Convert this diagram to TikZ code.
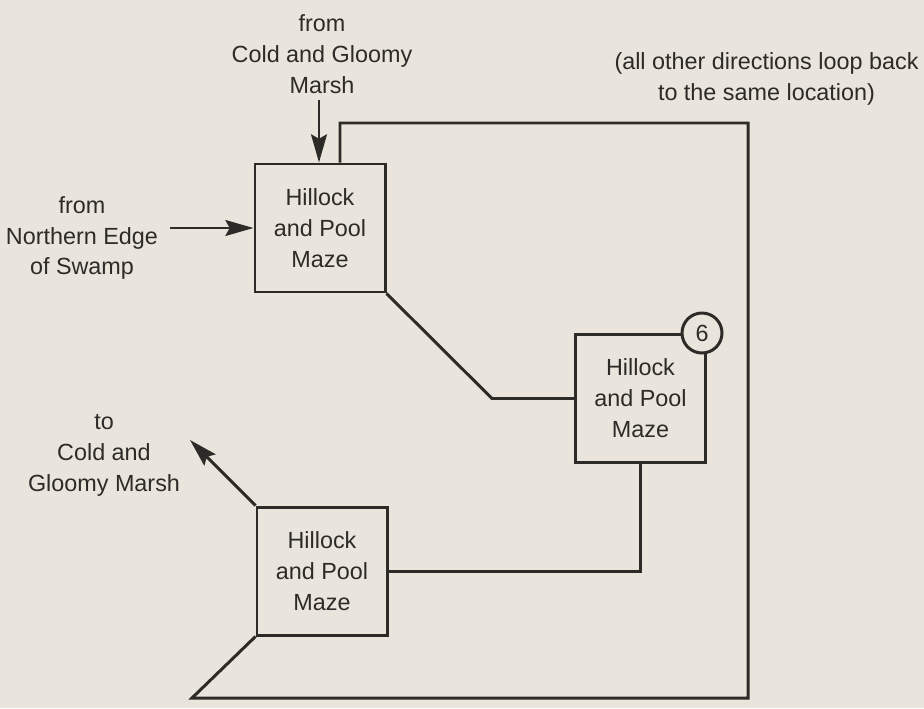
\documentclass[tikz,border=0pt]{standalone}
\usepackage{fontspec}
\setmainfont{Liberation Sans}
\usetikzlibrary{arrows.meta}
\definecolor{paper}{RGB}{233,229,220}
\definecolor{ink}{RGB}{45,43,40}
\newcommand{\mazefont}{\fontsize{13.3}{17.6}\selectfont}
\begin{document}
\begin{tikzpicture}[
            mbox/.style={draw=ink, line width=1.7pt, minimum width=2.6cm, minimum height=2.56cm, inner sep=0pt, align=center, font=\mazefont, text=ink},
            wire/.style={draw=ink, line width=1.7pt},
            arrow/.style={wire, -{Stealth[length=16pt, width=9pt, inset=2.5pt]}},
            lbl/.style={align=center, font=\mazefont, text=ink}
        ]
        \fill[paper] (0,0) rectangle (18.48,14.16);
        \useasboundingbox (0,0) rectangle (18.48,14.16);

        % --- maze rooms ---
        \node[mbox] (mz1) at (6.40, 9.60) {Hillock\\and Pool\\Maze};
        \node[mbox] (mz2) at (12.81, 6.19) {Hillock\\and Pool\\Maze};
        \node[mbox] (mz3) at (6.44, 2.74) {Hillock\\and Pool\\Maze};
        \node[circle, draw=ink, fill=paper, line width=1.7pt, minimum size=0.8cm, inner sep=0pt, font=\mazefont, text=ink] (six) at (14.04, 7.50) {6};

        % --- labels ---
        \node[lbl] (fromCG) at (6.44, 13.08) {from\\Cold and Gloomy\\Marsh};
        \node[lbl] (fromNE) at (1.64, 9.40) {from\\Northern Edge\\of Swamp};
        \node[lbl] (toCGl) at (2.08, 5.06) {to\\Cold and\\Gloomy Marsh};
        \node[lbl] (note) at (15.33, 12.58) {(all other directions loop back\\to the same location)};

        % --- connector ends ---
        \coordinate (fromN) at (6.38, 12.16);
        \coordinate (fromW) at (3.40, 9.60);
        \coordinate (toCG) at (3.80, 5.36);
        \coordinate (bend) at (9.84, 6.19);
        \coordinate (loopNE) at (14.96, 11.70);
        \coordinate (loopSE) at (14.96, 0.20);
        \coordinate (loopSW) at (3.84, 0.20);

        \draw[arrow] (fromN) -- (fromN |- mz1.north);
        \draw[arrow] (fromW) -- (mz1.west);
        \draw[arrow] (mz3.north west) -- (toCG);
        \draw[wire] (mz1.south east) -- (bend) -- (mz2.west);
        \draw[wire] (mz2.south) |- (mz3.east);
        \draw[wire] ([xshift=0.4cm]mz1.north) |- (loopNE) -- (loopSE) -- (loopSW) -- (mz3.south west);
        \end{tikzpicture}
\end{document}
